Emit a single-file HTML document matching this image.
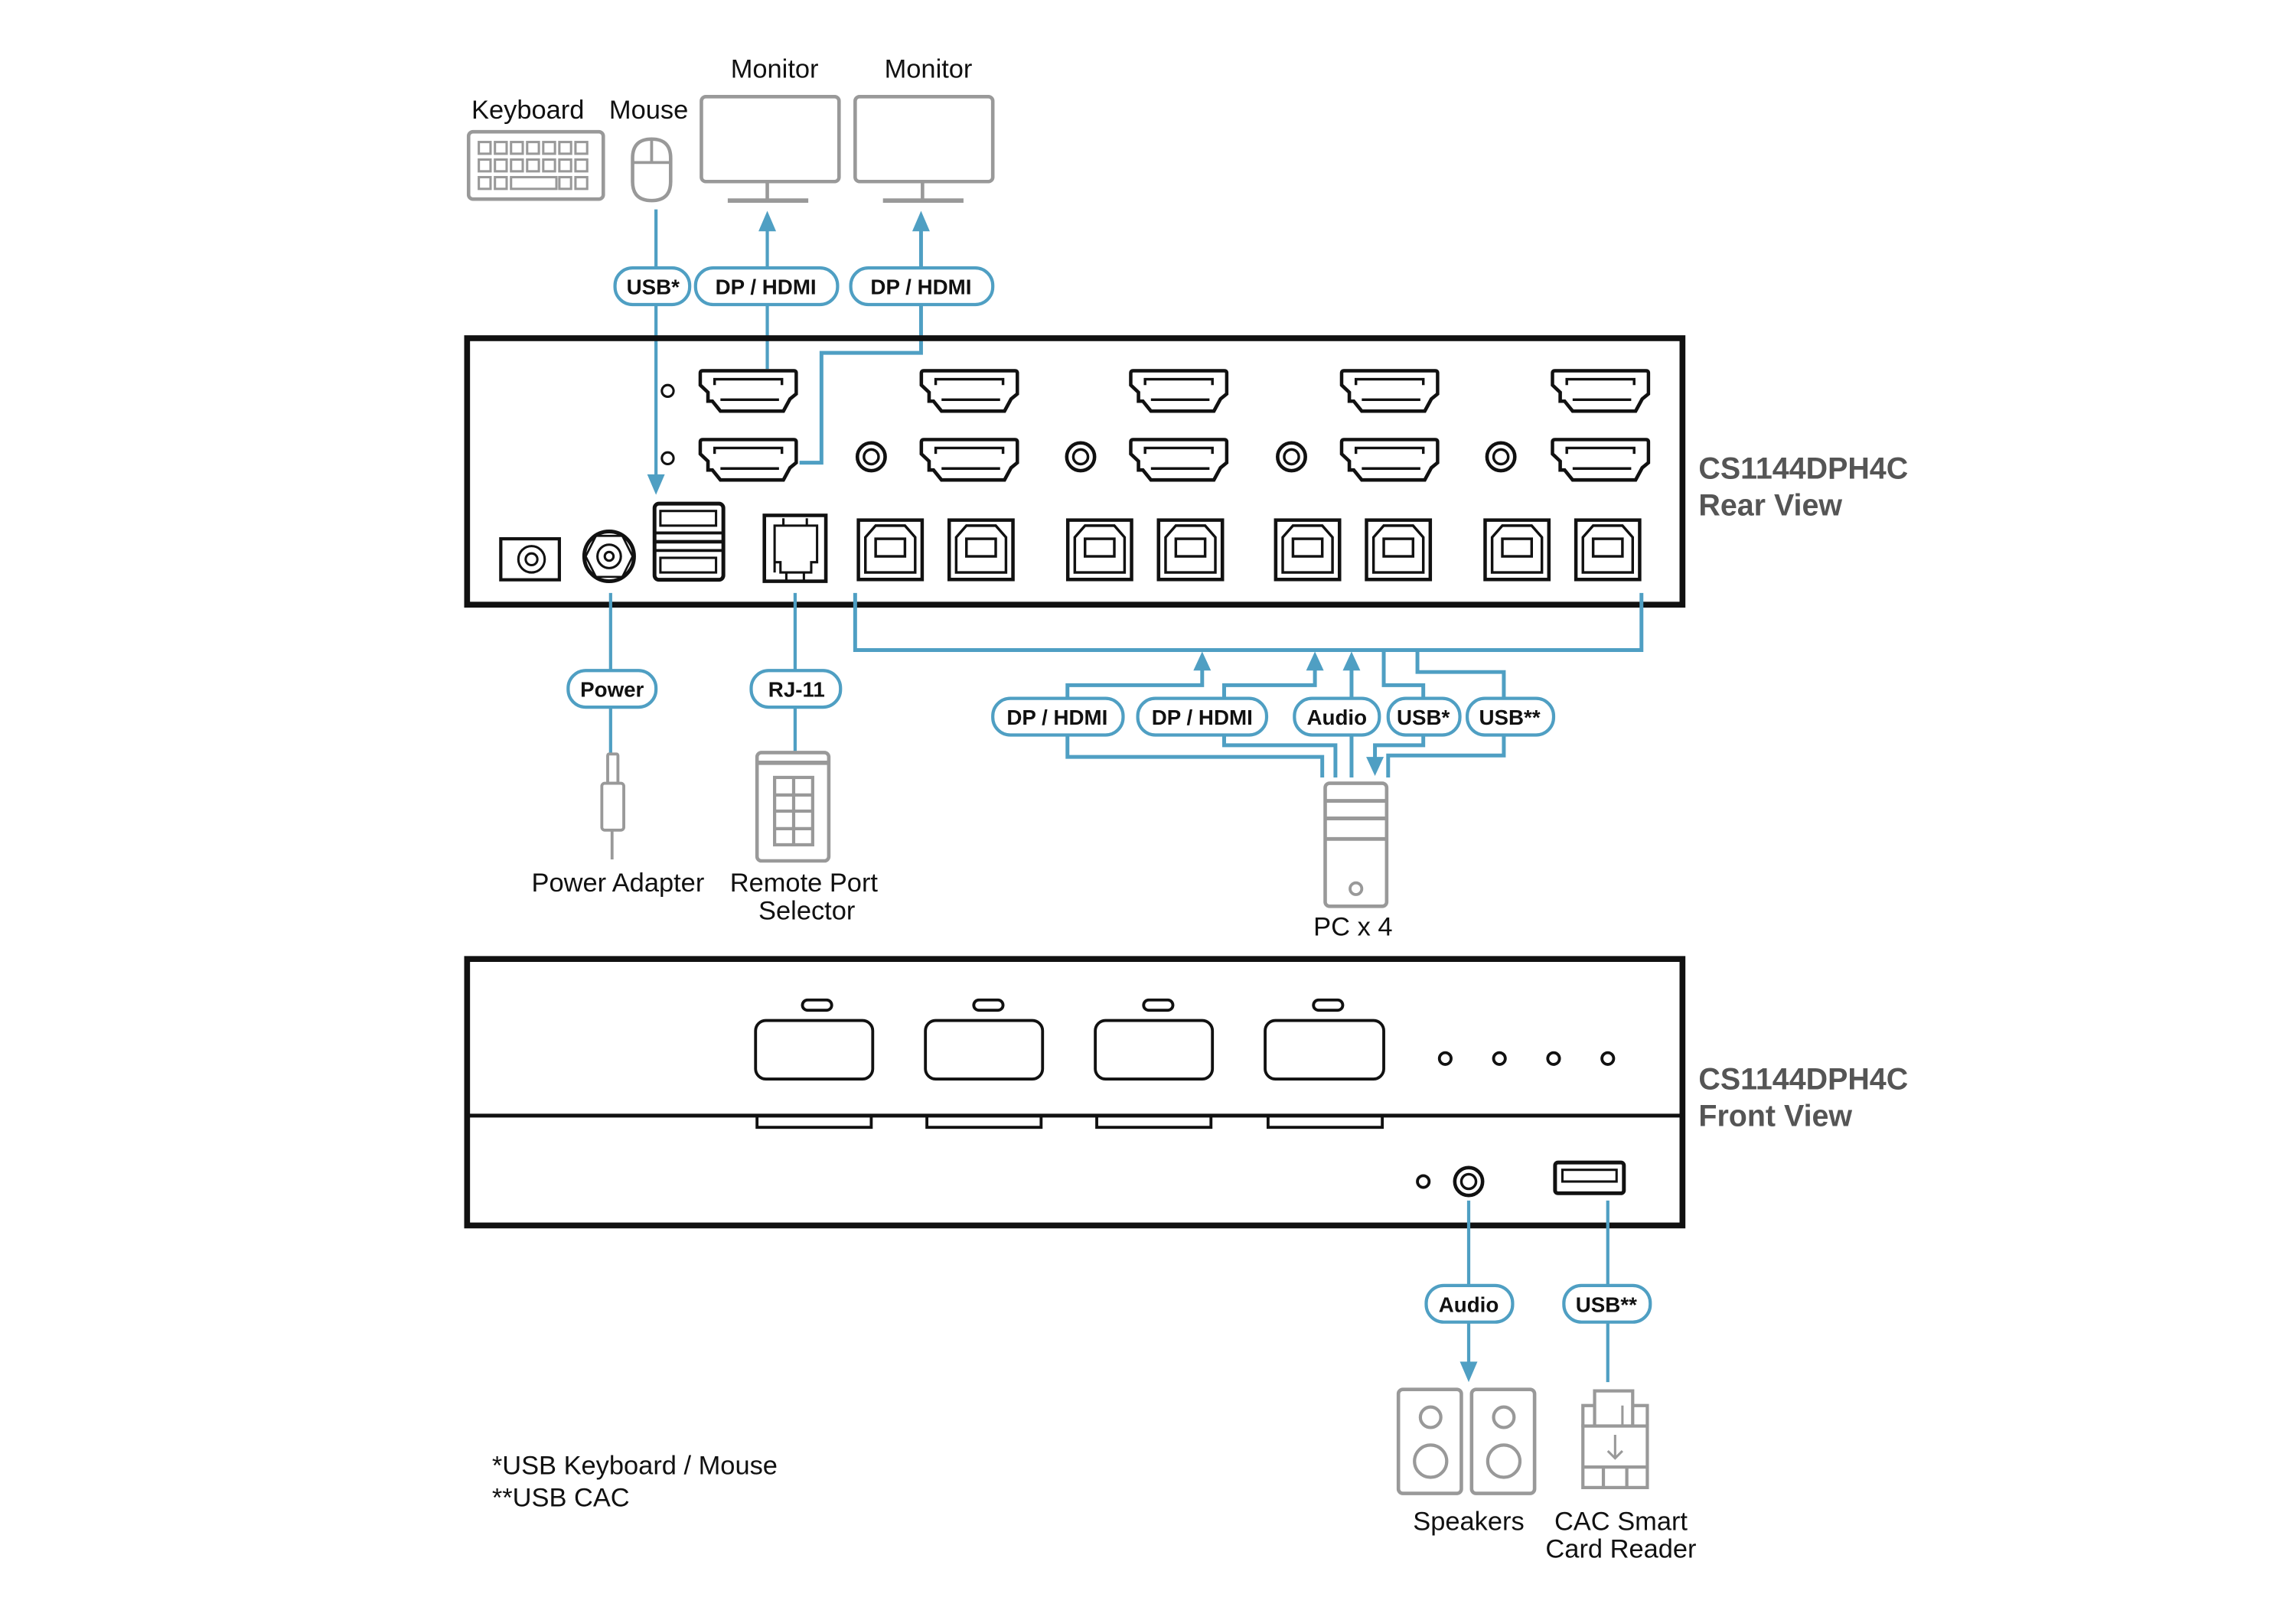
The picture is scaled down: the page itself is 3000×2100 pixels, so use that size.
<!DOCTYPE html>
<html><head><meta charset="utf-8"><style>
html,body{margin:0;padding:0;background:#fff;}
svg{display:block}
text{font-family:"Liberation Sans",sans-serif;}
.lab{font-size:18px;fill:#111;text-anchor:middle}
.pill text{font-size:14.5px;font-weight:bold;fill:#111;text-anchor:middle}
.pill rect{fill:#fff;stroke:#4f9fc3;stroke-width:2.2}
.c{stroke:#4f9fc3;stroke-width:2.2;fill:none}
.g{stroke:#999;stroke-width:2.4;fill:#fff}
.k{stroke:#111;stroke-width:2.2;fill:#fff}
.ttl{font-size:20.6px;font-weight:bold;fill:#555}
</style></head><body>
<svg width="3000" height="2100" viewBox="0 0 1568 1097.6" preserveAspectRatio="none" xmlns="http://www.w3.org/2000/svg">
<defs>
<symbol id="hdmi" viewBox="0 0 68 30" width="68" height="30">
<path d="M3,1.2 H65 Q66.8,1.2 66.8,3 V17 L62.5,20.5 L58,28.8 H15 L9.5,22 H6.5 V16 L1.2,11 V3 Q1.2,1.2 3,1.2 Z" fill="#fff" stroke="#111" stroke-width="2.4"/>
<path d="M11,11 V7 H57 V11" fill="none" stroke="#111" stroke-width="1.8"/>
<line x1="15" y1="21" x2="55" y2="21" stroke="#111" stroke-width="1.8"/>
</symbol>
<symbol id="usbb" viewBox="0 0 46 43" width="46" height="43">
<rect x="1.2" y="1.2" width="43.6" height="40.6" fill="#fff" stroke="#111" stroke-width="2.4"/>
<path d="M6,37 V13 L13,5 H33 L40,13 V37 Z" fill="none" stroke="#111" stroke-width="1.8"/>
<rect x="13" y="14" width="20" height="12" fill="none" stroke="#111" stroke-width="1.8"/>
</symbol>
<symbol id="jack" viewBox="0 0 24 24" width="24" height="24">
<circle cx="12" cy="12" r="9.5" fill="#fff" stroke="#111" stroke-width="2.4"/>
<circle cx="12" cy="12" r="5" fill="none" stroke="#111" stroke-width="1.8"/>
</symbol>
</defs>

<text x="322" y="81" class="lab" style="text-anchor:start">Keyboard</text>
<text x="416" y="81" class="lab" style="text-anchor:start">Mouse</text>
<text x="529" y="53" class="lab">Monitor</text>
<text x="634" y="53" class="lab">Monitor</text>
<rect x="320" y="90" width="92" height="46" rx="3" class="g"/>
<g fill="none" stroke="#999" stroke-width="1.6">
<rect x="327" y="97" width="8" height="8"/><rect x="338" y="97" width="8" height="8"/><rect x="349" y="97" width="8" height="8"/><rect x="360" y="97" width="8" height="8"/><rect x="371" y="97" width="8" height="8"/><rect x="382" y="97" width="8" height="8"/><rect x="393" y="97" width="8" height="8"/>
<rect x="327" y="109" width="8" height="8"/><rect x="338" y="109" width="8" height="8"/><rect x="349" y="109" width="8" height="8"/><rect x="360" y="109" width="8" height="8"/><rect x="371" y="109" width="8" height="8"/><rect x="382" y="109" width="8" height="8"/><rect x="393" y="109" width="8" height="8"/>
<rect x="327" y="121" width="8" height="8"/><rect x="338" y="121" width="8" height="8"/><rect x="349" y="121" width="31" height="8"/><rect x="382" y="121" width="8" height="8"/><rect x="393" y="121" width="8" height="8"/>
</g>
<path d="M432,108 Q432,95 445,95 Q458,95 458,108 V124 Q458,137 445,137 Q432,137 432,124 Z" class="g"/>
<line x1="432" y1="111" x2="458" y2="111" stroke="#999" stroke-width="2"/>
<line x1="445" y1="95" x2="445" y2="111" stroke="#999" stroke-width="2"/>
<rect x="479" y="66" width="94" height="58" rx="3" class="g"/>
<line x1="524" y1="124" x2="524" y2="136" stroke="#999" stroke-width="2.4"/>
<line x1="497" y1="137" x2="552" y2="137" stroke="#999" stroke-width="3"/>
<rect x="584" y="66" width="94" height="58" rx="3" class="g"/>
<line x1="630" y1="124" x2="630" y2="136" stroke="#999" stroke-width="2.4"/>
<line x1="603" y1="137" x2="658" y2="137" stroke="#999" stroke-width="3"/>

<path class="c" d="M448,143 V325"/><path d="M442,324 L448,338 L454,324 Z" fill="#4f9fc3"/>
<path class="c" d="M524,156 V252"/><path d="M518,158 L524,144 L530,158 Z" fill="#4f9fc3"/>
<path class="c" d="M629,156 V241 H561 V316 H546" style="stroke-width:2.6"/><path d="M623,158 L629,144 L635,158 Z" fill="#4f9fc3"/>
<g class="pill">
<rect x="420" y="183" width="51" height="25" rx="12"/><text x="446" y="201">USB*</text>
<rect x="475" y="183" width="97" height="25" rx="12"/><text x="523" y="201">DP / HDMI</text>
<rect x="581" y="183" width="97" height="25" rx="12"/><text x="629" y="201">DP / HDMI</text>
</g>

<rect x="319" y="231" width="830" height="182" fill="none" stroke="#111" stroke-width="4"/>
<use href="#hdmi" x="477" y="252"/><use href="#hdmi" x="628" y="252"/><use href="#hdmi" x="771" y="252"/><use href="#hdmi" x="915" y="252"/><use href="#hdmi" x="1059" y="252"/>
<use href="#hdmi" x="477" y="299"/><use href="#hdmi" x="628" y="299"/><use href="#hdmi" x="771" y="299"/><use href="#hdmi" x="915" y="299"/><use href="#hdmi" x="1059" y="299"/>
<circle cx="456" cy="267" r="4" class="k" style="stroke-width:1.6"/>
<circle cx="456" cy="313" r="4" class="k" style="stroke-width:1.6"/>
<use href="#jack" x="583" y="300"/><use href="#jack" x="726" y="300"/><use href="#jack" x="870" y="300"/><use href="#jack" x="1013" y="300"/>
<rect x="342" y="368" width="40" height="28" class="k"/>
<circle cx="363" cy="382" r="9" fill="none" stroke="#111" stroke-width="1.6"/><circle cx="363" cy="382" r="4" fill="none" stroke="#111" stroke-width="1.6"/>
<circle cx="416" cy="380" r="17" class="k" style="stroke-width:2.6"/>
<polygon points="407,366 425,366 432,380 425,394 407,394 400,380" fill="none" stroke="#111" stroke-width="1.4"/>
<circle cx="416" cy="380" r="8" fill="none" stroke="#111" stroke-width="1.6"/><circle cx="416" cy="380" r="3" fill="none" stroke="#111" stroke-width="1.6"/>
<rect x="447" y="344" width="47" height="52" rx="3" class="k" style="stroke-width:2.6"/>
<line x1="447" y1="370" x2="494" y2="370" stroke="#111" stroke-width="2.4"/>
<line x1="447" y1="364" x2="494" y2="364" stroke="#111" stroke-width="2"/>
<line x1="447" y1="376" x2="494" y2="376" stroke="#111" stroke-width="2"/>
<rect x="451" y="349" width="38" height="10" fill="none" stroke="#111" stroke-width="1.6"/>
<rect x="451" y="381" width="38" height="10" fill="none" stroke="#111" stroke-width="1.6"/>
<rect x="522" y="352" width="42" height="45" class="k" style="stroke-width:2.4"/>
<path d="M529,391 V389 V359 H558 V384 H554 V391 H533 V384 H529 Z M535,359 V354 M551,359 V354 M537,391 V396 M549,391 V396" fill="none" stroke="#111" stroke-width="1.6"/>
<use href="#usbb" x="585" y="354"/><use href="#usbb" x="647" y="354"/>
<use href="#usbb" x="728" y="354"/><use href="#usbb" x="790" y="354"/>
<use href="#usbb" x="870" y="354"/><use href="#usbb" x="932" y="354"/>
<use href="#usbb" x="1013" y="354"/><use href="#usbb" x="1075" y="354"/>
<text x="1160" y="327" class="ttl">CS1144DPH4C</text>
<text x="1160" y="352" class="ttl">Rear View</text>

<path class="c" d="M417,405 V515"/>
<path class="c" d="M543,405 V513"/>
<rect x="415" y="515" width="7" height="20" rx="1" class="g" style="stroke-width:2"/>
<rect x="411" y="535" width="15" height="32" rx="2" class="g" style="stroke-width:2"/>
<line x1="418" y1="567" x2="418" y2="587" stroke="#999" stroke-width="2"/>
<rect x="517" y="514" width="49" height="74" rx="3" class="g"/>
<line x1="517" y1="521" x2="566" y2="521" stroke="#999" stroke-width="3"/>
<g fill="none" stroke="#999" stroke-width="2.2"><rect x="529" y="531" width="26" height="46"/><line x1="542" y1="531" x2="542" y2="577"/><line x1="529" y1="543" x2="555" y2="543"/><line x1="529" y1="554" x2="555" y2="554"/><line x1="529" y1="566" x2="555" y2="566"/></g>
<g class="pill">
<rect x="388" y="458" width="60" height="25" rx="12"/><text x="418" y="476">Power</text>
<rect x="513" y="458" width="61" height="25" rx="12"/><text x="544" y="476">RJ-11</text>
</g>
<text x="422" y="609" class="lab">Power Adapter</text>
<text x="549" y="609" class="lab">Remote Port</text>
<text x="551" y="628" class="lab">Selector</text>

<path class="c" d="M584,405 V444 H1121 V405" style="stroke-width:2.6"/>
<g class="c" style="stroke-width:2.6">
<path d="M729,478 V468 H821 V456"/>
<path d="M836,478 V468 H898 V456"/>
<path d="M923,478 V456"/>
<path d="M945,444 V468 H972 V478"/>
<path d="M968,444 V459 H1027 V478"/>
<path d="M729,502 V517 H903 V531"/>
<path d="M836,502 V509 H912 V531"/>
<path d="M923,502 V531"/>
<path d="M972,502 V509 H939 V518"/>
<path d="M1027,502 V516 H948 V531"/>
</g>
<path d="M815,458 L821,445 L827,458 Z" fill="#4f9fc3"/>
<path d="M892,458 L898,445 L904,458 Z" fill="#4f9fc3"/>
<path d="M917,458 L923,445 L929,458 Z" fill="#4f9fc3"/>
<path d="M933,517 L939,530 L945,517 Z" fill="#4f9fc3"/>
<g class="pill">
<rect x="678" y="477" width="89" height="25" rx="12"/><text x="722" y="495">DP / HDMI</text>
<rect x="777" y="477" width="88" height="25" rx="12"/><text x="821" y="495">DP / HDMI</text>
<rect x="884" y="477" width="58" height="25" rx="12"/><text x="913" y="495">Audio</text>
<rect x="948" y="477" width="49" height="25" rx="12"/><text x="972" y="495">USB*</text>
<rect x="1002" y="477" width="59" height="25" rx="12"/><text x="1031" y="495">USB**</text>
</g>
<rect x="905" y="535" width="42" height="84" rx="3" class="g"/>
<g stroke="#999" stroke-width="2.6"><line x1="905" y1="547" x2="947" y2="547"/><line x1="905" y1="559" x2="947" y2="559"/><line x1="905" y1="573" x2="947" y2="573"/></g>
<circle cx="926" cy="607" r="4" fill="none" stroke="#999" stroke-width="2"/>
<text x="924" y="639" class="lab">PC x 4</text>

<rect x="319" y="655" width="830" height="182" fill="none" stroke="#111" stroke-width="4"/>
<line x1="319" y1="762" x2="1149" y2="762" stroke="#111" stroke-width="2.6"/>
<g fill="#fff" stroke="#111" stroke-width="2">
<rect x="516" y="697" width="80" height="40" rx="7"/><rect x="632" y="697" width="80" height="40" rx="7"/><rect x="748" y="697" width="80" height="40" rx="7"/><rect x="864" y="697" width="81" height="40" rx="7"/>
<rect x="548" y="683" width="20" height="7" rx="3.5"/><rect x="665" y="683" width="20" height="7" rx="3.5"/><rect x="781" y="683" width="20" height="7" rx="3.5"/><rect x="897" y="683" width="20" height="7" rx="3.5"/>
<path d="M517,762 V770 H595 V762 M633,762 V770 H711 V762 M749,762 V770 H827 V762 M866,762 V770 H944 V762" fill="none"/>
<circle cx="987" cy="723" r="4"/><circle cx="1024" cy="723" r="4"/><circle cx="1061" cy="723" r="4"/><circle cx="1098" cy="723" r="4"/>
<circle cx="972" cy="807" r="4"/>
</g>
<use href="#jack" x="991" y="795"/>
<rect x="1062" y="794" width="47" height="21" rx="2" class="k" style="stroke-width:2.6"/>
<rect x="1067" y="799" width="37" height="8" fill="none" stroke="#111" stroke-width="1.6"/>
<text x="1160" y="744" class="ttl">CS1144DPH4C</text>
<text x="1160" y="769" class="ttl">Front View</text>

<path class="c" d="M1003,820 V932"/><path d="M997,930 L1003,944 L1009,930 Z" fill="#4f9fc3"/>
<path class="c" d="M1098,820 V944"/>
<g class="pill">
<rect x="974" y="878" width="59" height="25" rx="12"/><text x="1003" y="896">Audio</text>
<rect x="1068" y="878" width="59" height="25" rx="12"/><text x="1097" y="896">USB**</text>
</g>
<rect x="955" y="949" width="43" height="71" rx="3" class="g"/>
<rect x="1005" y="949" width="43" height="71" rx="3" class="g"/>
<g fill="none" stroke="#999" stroke-width="2.2">
<circle cx="977" cy="968" r="7"/><circle cx="977" cy="998" r="11"/>
<circle cx="1027" cy="968" r="7"/><circle cx="1027" cy="998" r="11"/>
<rect x="1089" y="950" width="26" height="24"/>
<path d="M1081,975 V960 H1089 M1115,960 H1125 V975"/>
<rect x="1081" y="974" width="44" height="42" fill="#fff"/>
<line x1="1081" y1="1002" x2="1125" y2="1002"/>
<line x1="1095" y1="1002" x2="1095" y2="1016"/><line x1="1111" y1="1002" x2="1111" y2="1016"/>
<path d="M1103,980 V996 M1098,991 L1103,996 L1108,991" stroke-width="1.6"/>
<line x1="1108" y1="960" x2="1108" y2="974" stroke-width="1.6"/>
</g>
<text x="1003" y="1045" class="lab">Speakers</text>
<text x="1107" y="1045" class="lab">CAC Smart</text>
<text x="1107" y="1064" class="lab">Card Reader</text>
<text x="336" y="1007" class="lab" style="text-anchor:start">*USB Keyboard / Mouse</text>
<text x="336" y="1029" class="lab" style="text-anchor:start">**USB CAC</text>
</svg>
</body></html>
